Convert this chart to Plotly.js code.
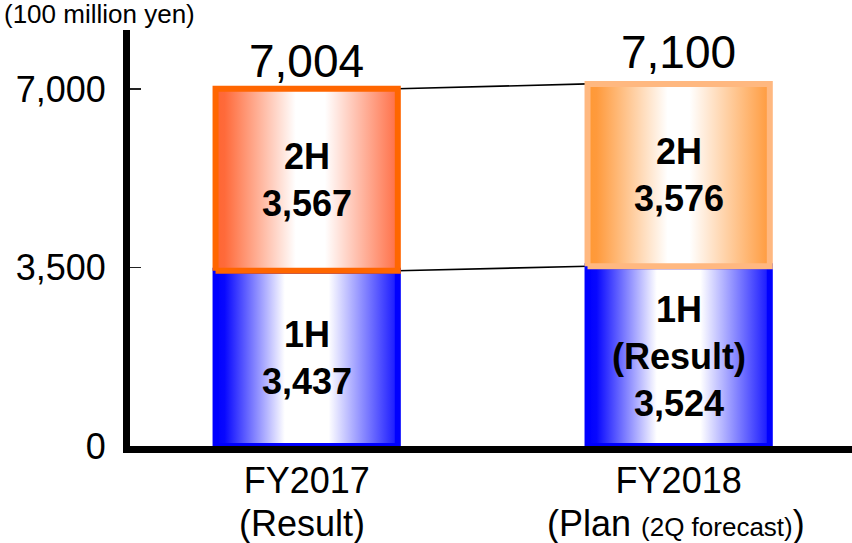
<!DOCTYPE html>
<html><head><meta charset="utf-8">
<script src="https://cdn.plot.ly/plotly-3.0.1.min.js"></script>
<style>html,body{margin:0;padding:0;background:#fff}#chart{width:852px;height:543px}</style>
</head><body><div id="chart"></div>
<script>
// ---- data ----
const categories = ['FY2017', 'FY2018'];
const categorySub = ['(Result)', '(Plan <span style="font-size:26px">(2Q forecast)</span>)'];
const firstHalf = [3437, 3524];
const secondHalf = [3567, 3576];
const firstHalfLabel = ['1H', '1H<br>(Result)'];
const secondHalfLabel = ['2H', '2H'];
const yTickVals = [0, 3500, 7000];
const yTickText = ['0', '3,500', '7,000'];
const unitLabel = '(100 million yen)';

// ---- styles ----
const FONT = 'Liberation Sans, Arial, sans-serif';
const barW = 0.49;
const blueScale = [[0, '#0000ff'], [0.05, '#0808ff'], [0.38, '#ffffff'], [0.62, '#ffffff'], [1, '#1414ff']];
const orangeScales = [
  [[0, '#ff6633'], [0.05, '#ff6a3a'], [0.44, '#ffffff'], [0.6, '#ffffff'], [1, '#ff6e45']],
  [[0, '#ff9933'], [0.05, '#ff9a3c'], [0.44, '#ffffff'], [0.56, '#ffffff'], [1, '#ff9a3c']]
];
const blueBorder = ['#0000ff', '#0000ff'];
const orangeBorder = ['#ff6600', '#ffb880'];

const fmt = v => v.toLocaleString('en-US');
const totals = firstHalf.map((v, i) => v + secondHalf[i]);

const traces = [];
// connector lines (underneath)
traces.push({
  x: [0 + barW / 2, 1 - barW / 2], y: [totals[0], totals[1]],
  mode: 'lines', line: {color: '#000', width: 1.6}, hoverinfo: 'skip', showlegend: false
});
traces.push({
  x: [0 + barW / 2, 1 - barW / 2], y: [firstHalf[0], firstHalf[1]],
  mode: 'lines', line: {color: '#000', width: 1.6}, hoverinfo: 'skip', showlegend: false
});

function rect(i, base, top, scale, border) {
  const l = i - barW / 2, r = i + barW / 2;
  return {
    x: [l, r, r, l, l], y: [base, base, top, top, base],
    mode: 'lines', fill: 'toself',
    fillgradient: {type: 'horizontal', colorscale: scale},
    line: {color: border, width: 6},
    hoverinfo: 'skip', showlegend: false
  };
}
categories.forEach((c, i) => {
  traces.push(rect(i, 0, firstHalf[i], blueScale, blueBorder[i]));
});
categories.forEach((c, i) => {
  traces.push(rect(i, firstHalf[i], totals[i], orangeScales[i], orangeBorder[i]));
});

const annotations = [];
categories.forEach((c, i) => {
  annotations.push({
    x: i, y: firstHalf[i] / 2, xref: 'x', yref: 'y', showarrow: false,
    text: firstHalfLabel[i] + '<br>' + fmt(firstHalf[i]),
    font: {family: FONT, size: 36, color: '#000', weight: 'bold'}
  });
  annotations.push({
    x: i, y: firstHalf[i] + secondHalf[i] / 2, xref: 'x', yref: 'y', showarrow: false,
    text: secondHalfLabel[i] + '<br>' + fmt(secondHalf[i]),
    font: {family: FONT, size: 36, color: '#000', weight: 'bold'}
  });
  annotations.push({
    x: i, y: totals[i], xref: 'x', yref: 'y', showarrow: false, yanchor: 'bottom',
    text: fmt(totals[i]), yshift: i === 1 ? 4 : 0,
    font: {family: FONT, size: 46, color: '#000'}
  });
  annotations.push({
    x: i, y: -0.186, xref: 'x', yref: 'paper', showarrow: false, yanchor: 'middle',
    xshift: i === 0 ? -5 : -3,
    text: categorySub[i],
    font: {family: FONT, size: 36, color: '#000'}
  });
});
annotations.push({
  x: -0.177, y: 1.0385, xref: 'paper', yref: 'paper', showarrow: false,
  xanchor: 'left', yanchor: 'middle', text: unitLabel,
  font: {family: FONT, size: 26, color: '#000'}
});

const layout = {
  width: 852, height: 543,
  margin: {l: 130, r: 0, t: 30, b: 97},
  paper_bgcolor: '#fff', plot_bgcolor: '#fff',
  showlegend: false,
  xaxis: {
    range: [-0.475, 1.466], showgrid: false, zeroline: false,
    showline: true, linewidth: 7, linecolor: '#000',
    tickmode: 'array', tickvals: categories.map((c, i) => i), ticktext: categories,
    ticks: '', ticklabelstandoff: -3,
    tickfont: {family: FONT, size: 36, color: '#000'}
  },
  yaxis: {
    range: [0, 8157], showgrid: false, zeroline: false,
    showline: true, linewidth: 7, linecolor: '#000',
    tickmode: 'array', tickvals: yTickVals, ticktext: yTickText,
    ticks: 'inside', ticklen: 11, tickwidth: 1.5, tickcolor: '#222',
    ticklabelstandoff: 10,
    tickfont: {family: FONT, size: 36, color: '#000'}
  },
  annotations: annotations
};

Plotly.newPlot('chart', traces, layout, {staticPlot: true, displayModeBar: false});
</script>
</body></html>
